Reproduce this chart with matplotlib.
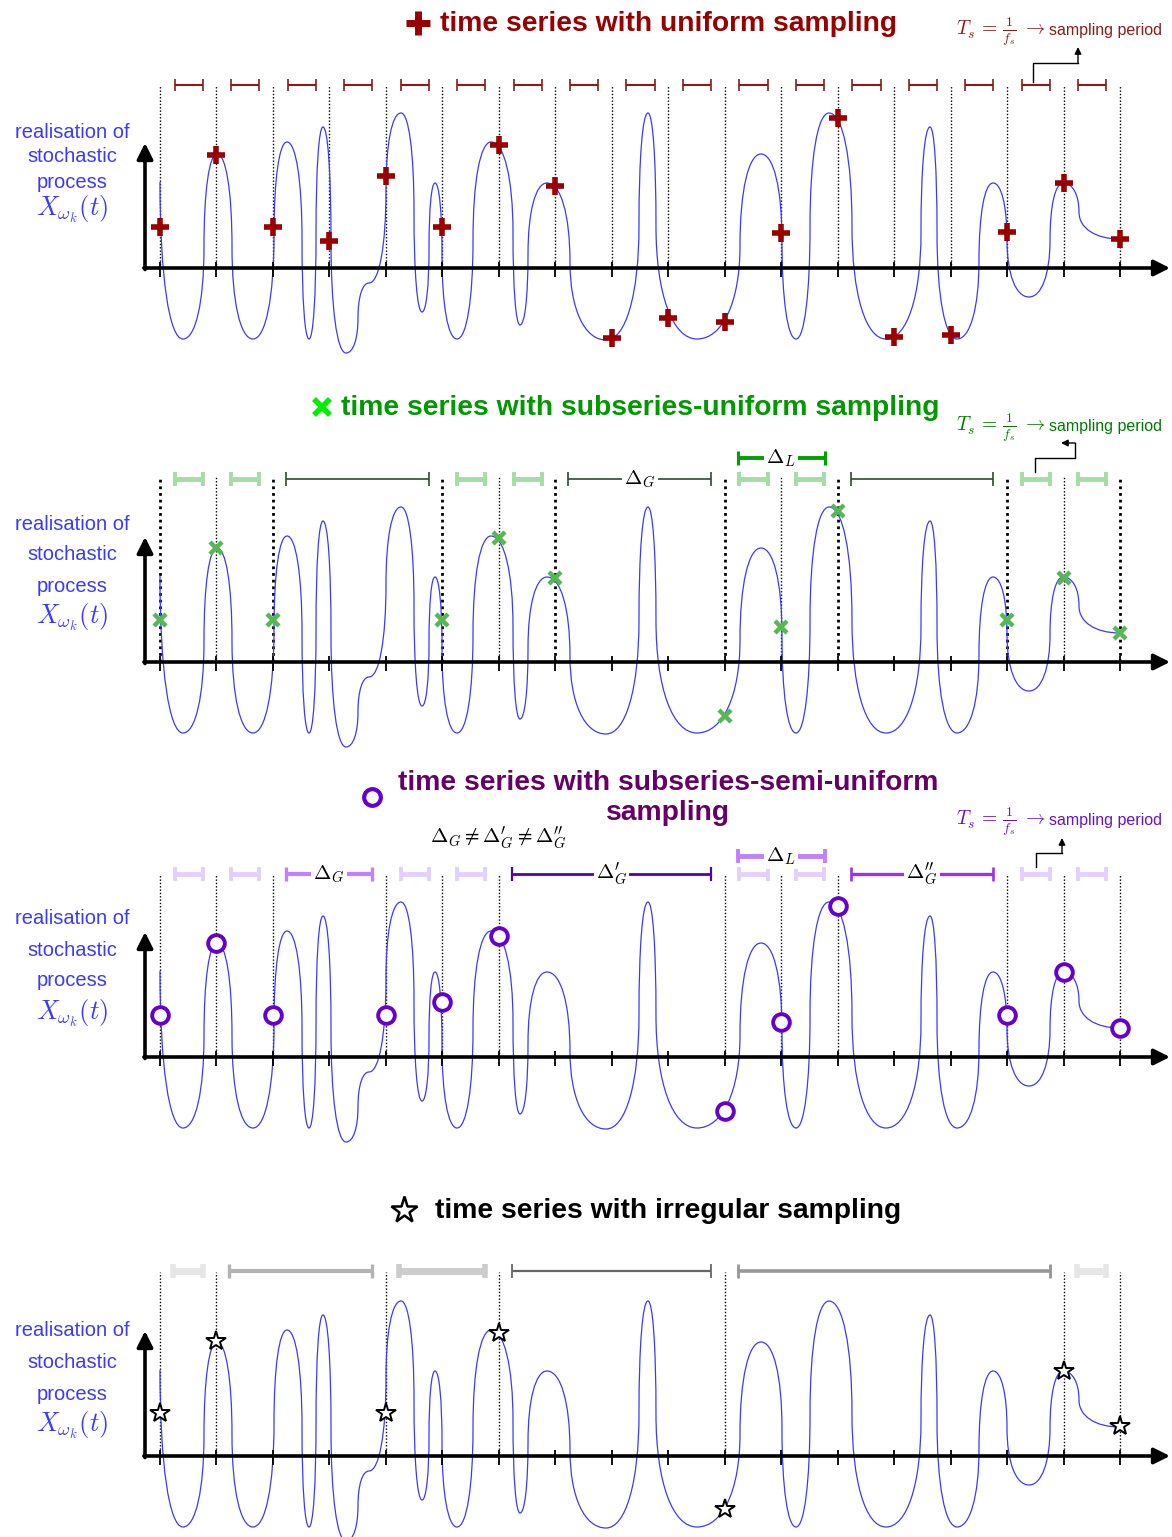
import numpy as np
import matplotlib
matplotlib.use("Agg")
import matplotlib.pyplot as plt
from matplotlib.path import Path
from matplotlib.patches import PathPatch

plt.rcParams['font.family'] = ['Liberation Sans', 'DejaVu Sans']
plt.rcParams['mathtext.fontset'] = 'cm'

# ---- data (time in units of Ts, value in amplitude units) ----
t_samples = np.arange(18)

# knots of the realisation, alternating vertical / horizontal tangents
knot_t = [0.000, 0.407, 0.779, 1.009, 1.275, 1.647, 2.019, 2.249, 2.515, 2.639,
          2.763, 2.886, 3.028, 3.294, 3.506, 3.701, 4.002, 4.268, 4.498, 4.640,
          4.764, 4.870, 4.994, 5.259, 5.543, 5.862, 6.251, 6.375, 6.517, 6.853,
          7.260, 7.898, 8.482, 8.641, 8.783, 9.509, 10.271, 10.643, 11.014, 11.263,
          11.511, 11.847, 12.254, 12.856, 13.476, 13.636, 13.760, 14.114, 14.503, 14.751,
          14.999, 15.389, 15.761, 15.991, 16.274, 17.000]
knot_v = [0.86, -0.71, 0.21, 1.14, 0.21, -0.71, 0.33, 1.26, 0.28, -0.71,
          0.35, 1.41, 0.28, -0.85, -0.50, -0.15, 0.78, 1.55, 0.56, -0.44,
          0.20, 0.85, 0.13, -0.71, 0.28, 1.26, 0.35, -0.57, 0.14, 0.85,
          0.06, -0.72, 0.42, 1.55, 0.42, -0.71, 0.22, 1.14, 0.28, -0.71,
          0.42, 1.55, 0.42, -0.71, 0.35, 1.41, 0.35, -0.71, 0.07, 0.85,
          0.28, -0.29, 0.28, 0.85, 0.56, 0.29]
knot_kind = "vh" * 28

uni_idx = list(range(18))
uni_val = [0.41, 1.13, 0.41, 0.27, 0.92, 0.41, 1.23, 0.82, -0.70, -0.50,
           -0.54, 0.35, 1.50, -0.69, -0.67, 0.36, 0.85, 0.29]
sub_idx = [0, 1, 2, 5, 6, 7, 10, 11, 12, 15, 16, 17]
sub_val = [0.42, 1.14, 0.42, 0.42, 1.24, 0.84, -0.54, 0.35, 1.51, 0.42, 0.84, 0.29]
semi_idx = [0, 1, 2, 4, 5, 6, 10, 11, 12, 15, 16, 17]
semi_val = [0.42, 1.14, 0.42, 0.42, 0.55, 1.21, -0.54, 0.35, 1.51, 0.42, 0.85, 0.29]
irr_idx = [0, 1, 4, 6, 10, 16, 17]
irr_val = [0.43, 1.15, 0.43, 1.23, -0.53, 0.85, 0.30]

# ---- layout ----
W, H = 1172, 1537
axis_px = [268, 662, 1057, 1456]
px0, dpx = 160.0, 56.47
blue = '#3a3aff'


def curve_path(ts, vs, kinds, k=0.6):
    verts = [(ts[0], vs[0])]
    codes = [Path.MOVETO]
    for i in range(len(ts) - 1):
        x0, y0, x1, y1 = ts[i], vs[i], ts[i + 1], vs[i + 1]
        c1 = (x0 + k * (x1 - x0), y0) if kinds[i] == 'h' else (x0, y0 + k * (y1 - y0))
        c2 = (x1 - k * (x1 - x0), y1) if kinds[i + 1] == 'h' else (x1, y1 - k * (y1 - y0))
        verts += [c1, c2, (x1, y1)]
        codes += [Path.CURVE4] * 3
    return Path(verts, codes)


def bracket(ax, a, b, y, color, lw, cap, label=None, fs=15):
    ax.plot([a, b], [y, y], color=color, lw=lw, solid_capstyle='butt', clip_on=False)
    ax.plot([a, b], [y, y], ls='none', marker='|', ms=cap, mew=max(1.2, lw * 0.8),
            color=color, clip_on=False)
    if label:
        ax.text((a + b) / 2, y, label, ha='center', va='center', fontsize=fs,
                bbox=dict(fc='white', ec='none', pad=1.5), clip_on=False)


def base_panel(ax, label_y):
    ax.set_xlim(-px0 / dpx, (W - px0) / dpx)
    ax.set_ylim(-1.0, 2.8)
    ax.axis('off')
    ax.add_patch(PathPatch(curve_path(knot_t, knot_v, knot_kind), fc='none',
                           ec=blue, lw=0.9, zorder=2))
    x_ax = (145 - px0) / dpx
    ax.annotate('', xy=((1170 - px0) / dpx, 0), xytext=(x_ax - 0.02, 0),
                arrowprops=dict(arrowstyle='-|>', lw=2.6, color='k', mutation_scale=24,
                                shrinkA=0, shrinkB=0), zorder=3)
    ax.annotate('', xy=(x_ax, 1.25), xytext=(x_ax, -0.015),
                arrowprops=dict(arrowstyle='-|>', lw=2.6, color='k', mutation_scale=24,
                                shrinkA=0, shrinkB=0), zorder=3)
    ax.vlines(t_samples, -0.09, 0.06, color='k', lw=1.3, zorder=3)
    xl = (72 - px0) / dpx
    for txt, y in zip(['realisation of', 'stochastic', 'process'], label_y[:3]):
        ax.text(xl, y, txt, ha='center', va='center', color=blue, fontsize=14.5)
    ax.text(xl, label_y[3], r'$X_{\omega_k}(t)$', ha='center', va='center',
            color=blue, fontsize=19)


def dotted(ax, idx, top, lw=1.0):
    ax.vlines(idx, 0, top, colors='k', lw=lw, linestyles=(0, (1, 1.4)), zorder=1)


def ts_note(ax, y, color):
    ax.text((1045 - px0) / dpx, y, r'$T_s\,=\,\frac{1}{f_s}\;\rightarrow$', ha='right',
            va='center', color=color, fontsize=14)
    ax.text((1049 - px0) / dpx, y + 0.02, 'sampling period', ha='left', va='center',
            color=color, fontsize=11.5)


def ts_arrow(ax, pts, color='k'):
    xs = [(p[0] - px0) / dpx for p in pts]
    ys = [p[1] for p in pts]
    ax.plot(xs[:-1], ys[:-1], color=color, lw=1.0, clip_on=False)
    ax.annotate('', xy=(xs[-1], ys[-1]), xytext=(xs[-2], ys[-2]),
                arrowprops=dict(arrowstyle='-|>', lw=1.0, color=color, mutation_scale=10,
                                shrinkA=0, shrinkB=0))


fig = plt.figure(figsize=(W / 100, H / 100), dpi=100)
axes = []
for ay in axis_px:
    ax = fig.add_axes([0, 1 - (ay + 100) / H, 1, 380 / H])
    ax.patch.set_alpha(0)
    axes.append(ax)

off, on = 0.26, 0.24
ybr = 1.83
dG = r'$\Delta_G$'
dG1 = r'$\Delta^{\prime}_{G}$'
dG2 = r'$\Delta^{\prime\prime}_{G}$'

# ---- panel 1: uniform ----
ax = axes[0]
base_panel(ax, [1.36, 1.11, 0.86, 0.59])
dotted(ax, uni_idx, 1.83)
for a, b in zip(uni_idx[:-1], uni_idx[1:]):
    bracket(ax, a + off, b - on, ybr, '#8b1a1a', 1.5, 8)
ax.plot(uni_idx, uni_val, ls='none', marker='+', ms=13, mew=4.0, color='#990000',
        zorder=5, clip_on=False)
ax.plot([(418 - px0) / dpx], [2.45], marker='+', ms=17, mew=5, color='#990000',
        clip_on=False)
ax.text((440 - px0) / dpx, 2.44, 'time series with uniform sampling', ha='left',
        va='center', color='#990000', fontsize=20.3, fontweight='bold')
ts_note(ax, 2.36, '#8b1a1a')
ts_arrow(ax, [(1033, 1.86), (1033, 2.05), (1078, 2.05), (1078, 2.21)])

# ---- panel 2: subseries-uniform ----
ax = axes[1]
base_panel(ax, [1.38, 1.07, 0.76, 0.45])
bounds = [0, 2, 5, 7, 10, 12, 15, 17]
dotted(ax, [i for i in sub_idx if i not in bounds], 1.85, lw=1.0)
dotted(ax, bounds, 1.85, lw=2.0)
for a, b in zip(sub_idx[:-1], sub_idx[1:]):
    if b - a == 1:
        bracket(ax, a + off, b - on, ybr, '#a6dca6', 3.5, 10)
    else:
        bracket(ax, a + off - 0.03, b - on, ybr, '#2f4a2f', 1.2, 10,
                dG if a == 7 else None)
bracket(ax, 10 + 0.23, 12 - 0.23, 2.04, '#00a000', 2.8, 10, r'$\Delta_L$')
ax.plot(sub_idx, sub_val, ls='none', marker='x', ms=9, mew=3.2, color='#55b855',
        zorder=5, clip_on=False)
ax.plot([(322 - px0) / dpx], [2.55], marker='x', ms=12, mew=4, color='#00ee00',
        clip_on=False)
ax.text((341 - px0) / dpx, 2.54, 'time series with subseries-uniform sampling', ha='left',
        va='center', color='#009900', fontsize=20.3, fontweight='bold')
ts_note(ax, 2.34, '#007a00')
ts_arrow(ax, [(1035, 1.90), (1035, 2.04), (1075, 2.04), (1075, 2.19), (1061, 2.19)])

# ---- panel 3: subseries-semi-uniform ----
ax = axes[2]
base_panel(ax, [1.39, 1.07, 0.76, 0.44])
dotted(ax, semi_idx, 1.83)
g_style = {2: ('#c080ff', 3.0, dG), 6: ('#5500aa', 2.0, dG1), 12: ('#9933ee', 2.4, dG2)}
for a, b in zip(semi_idx[:-1], semi_idx[1:]):
    if b - a == 1:
        bracket(ax, a + off, b - on, ybr, '#e2d0ff', 3.5, 10)
    else:
        c, lw, lab = g_style[a]
        bracket(ax, a + off - 0.03, b - on, ybr, c, lw, 10, lab)
bracket(ax, 10 + 0.23, 12 - 0.23, 2.01, '#c080ff', 3.5, 10, r'$\Delta_L$')
ax.plot(semi_idx, semi_val, ls='none', marker='o', ms=12, mfc='white', mec='#6600cc',
        mew=2.8, zorder=5, clip_on=False)
ax.plot([(372 - px0) / dpx], [2.60], marker='o', ms=12, mfc='white', mec='#6600cc',
        mew=3, clip_on=False)
ax.text((668 - px0) / dpx, 2.59, 'time series with subseries-semi-uniform\nsampling',
        ha='center', va='center', color='#660066', fontsize=20.3, fontweight='bold',
        linespacing=1.2)
ax.text((498 - px0) / dpx, 2.19, r"$\Delta_G \neq \Delta^{\prime}_{G} \neq \Delta^{\prime\prime}_{G}$",
        ha='center', va='center', fontsize=15)
ts_note(ax, 2.35, '#6611cc')
ts_arrow(ax, [(1036, 1.90), (1036, 2.04), (1062, 2.04), (1062, 2.19)])

# ---- panel 4: irregular ----
ax = axes[3]
base_panel(ax, [1.25, 0.94, 0.62, 0.31])
dotted(ax, irr_idx, 1.84)
gray_style = [('#e6e6e6', 5.0), ('#b3b3b3', 3.0), ('#cccccc', 5.0), ('#666666', 1.6),
              ('#999999', 2.6), ('#e6e6e6', 5.0)]
for (a, b), (c, lw) in zip(zip(irr_idx[:-1], irr_idx[1:]), gray_style):
    bracket(ax, a + off - 0.03, b - on, 1.85, c, lw, 10)
ax.plot(irr_idx, irr_val, ls='none', marker='*', ms=15, mfc='white', mec='k', mew=1.4,
        zorder=5, clip_on=False)
ax.plot([(404 - px0) / dpx], [2.46], marker='*', ms=20, mfc='white', mec='k', mew=1.8,
        clip_on=False)
ax.text((435 - px0) / dpx, 2.45, 'time series with irregular sampling', ha='left',
        va='center', color='k', fontsize=20.3, fontweight='bold')

fig.savefig('out.png', dpi=100)
